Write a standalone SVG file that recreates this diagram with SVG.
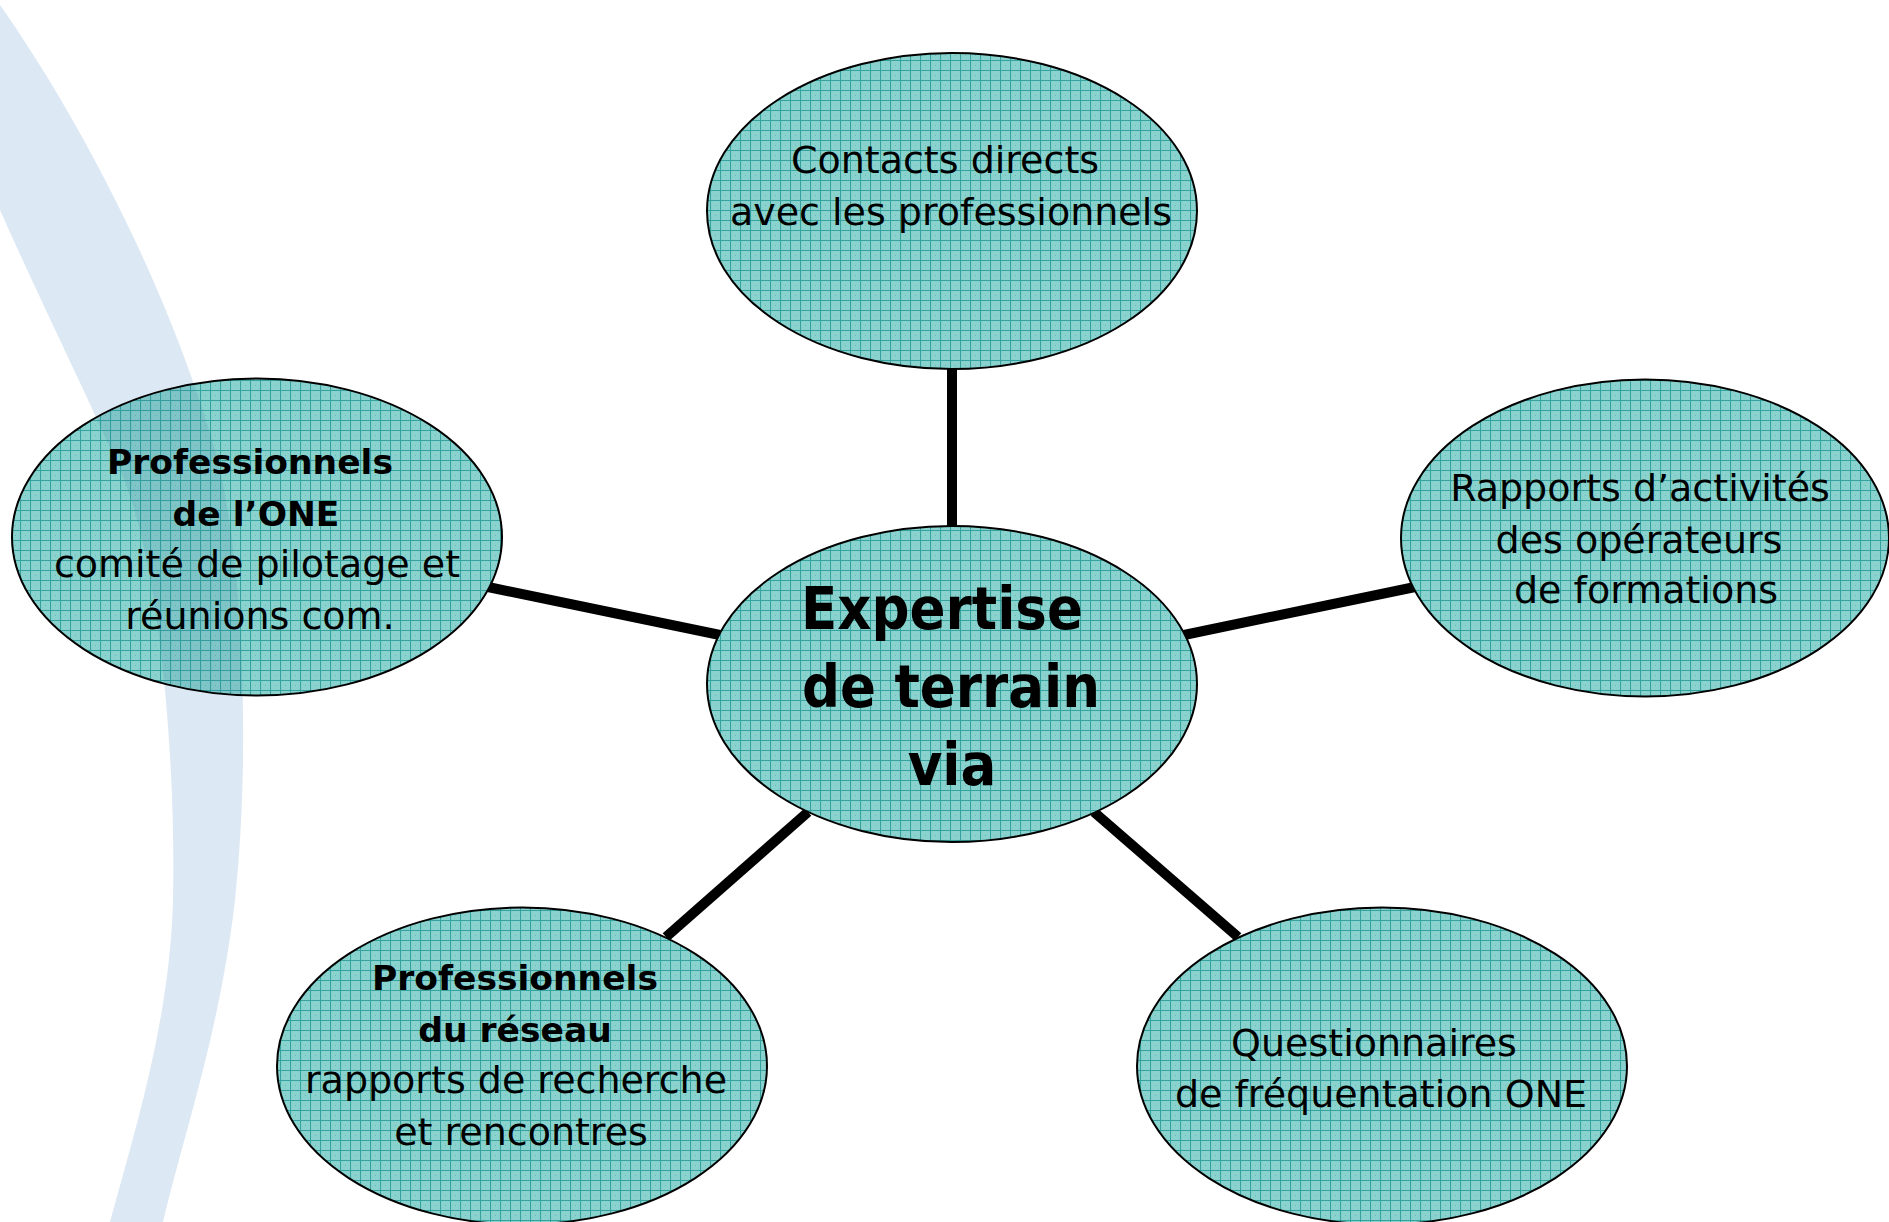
<svg xmlns="http://www.w3.org/2000/svg" width="1889" height="1222" viewBox="0 0 1889 1222">
  <style>
    .node { fill: url(#grid); stroke: #000; stroke-width: 2; }
    .conn { stroke: #000; stroke-width: 10; stroke-linecap: butt; fill: none; }
    text { font-family: "DejaVu Sans", "Liberation Sans", sans-serif; fill: #000; text-anchor: middle; }
    .reg { font-size: 38px; }
    .bold { font-size: 34.5px; font-weight: bold; }
    .big { font-size: 59px; font-weight: bold; font-stretch: condensed; }
  </style>
  <defs>
    <pattern id="grid" patternUnits="userSpaceOnUse" width="10" height="10">
      <rect width="10" height="10" fill="#8ad2ce"/>
      <path d="M0 0.5 H10 M0.5 0 V10" stroke="#34a39f" stroke-width="1.1"/>
      <rect x="5" y="5" width="1" height="1" fill="#5fbcb8"/>
    </pattern>
    <clipPath id="clipLeft">
      <ellipse cx="257" cy="537" rx="244" ry="157.5"/>
    </clipPath>
    <path id="band" d="M0,5 C60,90 160,260 215,450 C245,560 250,760 235,900 C220,1030 185,1130 163,1222 L110,1222 C135,1130 170,1020 173,900 C176,760 160,560 120,470 C80,380 40,300 0,210 Z"/>
  </defs>

  <rect width="1889" height="1222" fill="#ffffff"/>
  <use href="#band" fill="#dce8f4"/>

  <g id="connectors">
    <line class="conn" x1="952" y1="369" x2="952" y2="526"/>
    <line class="conn" x1="488" y1="587" x2="720" y2="635"/>
    <line class="conn" x1="1415" y1="587" x2="1184" y2="635"/>
    <line class="conn" x1="666" y1="937" x2="808" y2="812"/>
    <line class="conn" x1="1238" y1="937" x2="1094" y2="812"/>
  </g>

  <g id="node-top">
    <ellipse class="node" cx="952" cy="211" rx="245" ry="158"/>
    <text class="reg" x="945" y="173">Contacts directs</text>
    <text class="reg" x="951" y="225">avec les professionnels</text>
  </g>

  <g id="node-center">
    <ellipse class="node" cx="952" cy="684" rx="245" ry="158"/>
    <text class="big" x="942" y="629">Expertise</text>
    <text class="big" x="951" y="707">de terrain</text>
    <text class="big" x="952" y="785">via</text>
  </g>

  <g id="node-left">
    <ellipse class="node" cx="257" cy="537" rx="245" ry="158.5"/>
    <use href="#band" fill="#2f6f9a" opacity="0.12" clip-path="url(#clipLeft)"/>
    <text class="bold" x="250" y="474">Professionnels</text>
    <text class="bold" x="256" y="526">de l’ONE</text>
    <text class="reg" x="257" y="577">comité de pilotage et</text>
    <text class="reg" x="260" y="629">réunions com.</text>
  </g>

  <g id="node-right">
    <ellipse class="node" cx="1645" cy="538" rx="244" ry="158.5"/>
    <text class="reg" x="1640" y="501">Rapports d’activités</text>
    <text class="reg" x="1639" y="553">des opérateurs</text>
    <text class="reg" x="1646" y="603">de formations</text>
  </g>

  <g id="node-bottom-left">
    <ellipse class="node" cx="522" cy="1066" rx="245" ry="158.5"/>
    <text class="bold" x="515" y="990">Professionnels</text>
    <text class="bold" x="515" y="1042">du réseau</text>
    <text class="reg" x="516" y="1093">rapports de recherche</text>
    <text class="reg" x="521" y="1145">et rencontres</text>
  </g>

  <g id="node-bottom-right">
    <ellipse class="node" cx="1382" cy="1066" rx="245" ry="158.5"/>
    <text class="reg" x="1374" y="1056">Questionnaires</text>
    <text class="reg" x="1381" y="1107">de fréquentation ONE</text>
  </g>
</svg>
